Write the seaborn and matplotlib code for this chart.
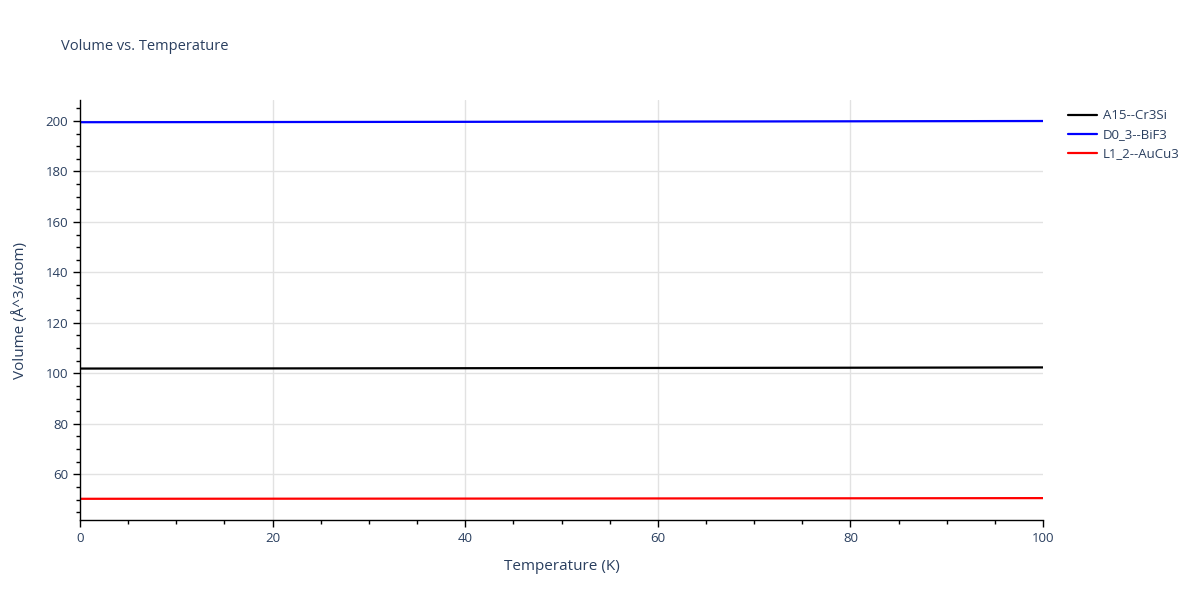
import numpy as np
import pandas as pd
import matplotlib
matplotlib.use("Agg")
import matplotlib.pyplot as plt
import seaborn as sns
from matplotlib.ticker import MultipleLocator

sns.set_style("white")
plt.rcParams["font.family"] = ["Open Sans", "DejaVu Sans"]

# --------------------------------------------------------------------------
# Data
# --------------------------------------------------------------------------
temperature = [0, 10, 20, 30, 40, 50, 60, 70, 80, 90, 100]
vol_a15 = [101.90, 101.93, 101.96, 102.00, 102.04, 102.08, 102.13, 102.18, 102.23, 102.29, 102.35]
vol_d03 = [199.50, 199.53, 199.57, 199.61, 199.65, 199.70, 199.75, 199.80, 199.86, 199.92, 199.98]
vol_l12 = [50.30, 50.32, 50.34, 50.36, 50.38, 50.41, 50.44, 50.47, 50.50, 50.53, 50.57]

series_names = ["A15--Cr3Si", "D0_3--BiF3", "L1_2--AuCu3"]
series_colors = ["black", "blue", "red"]

TEXT = "#2a3f5f"
GRID = "#e2e2e2"

df = pd.concat([
    pd.DataFrame({"T": temperature, "V": vals, "structure": name})
    for name, vals in zip(series_names, [vol_a15, vol_d03, vol_l12])
], ignore_index=True)

fig = plt.figure(figsize=(12, 6), dpi=100)
ax = fig.add_axes([80 / 1200, 1 - 520 / 600, (1043 - 80) / 1200, 420 / 600])

sns.lineplot(data=df, x="T", y="V", hue="structure", hue_order=series_names,
             palette=dict(zip(series_names, series_colors)), linewidth=1.6, ax=ax)

ax.set_xlim(0, 100)
ax.set_ylim(41.9, 208.3)
ax.xaxis.set_major_locator(MultipleLocator(20))
ax.xaxis.set_minor_locator(MultipleLocator(5))
ax.yaxis.set_major_locator(MultipleLocator(20))
ax.yaxis.set_minor_locator(MultipleLocator(5))

# grid drawn by hand so the right edge (x=100) stays without a line
for gx in [20, 40, 60, 80]:
    ax.axvline(gx, color=GRID, linewidth=1, zorder=0)
for gy in [60, 80, 100, 120, 140, 160, 180, 200]:
    ax.axhline(gy, color=GRID, linewidth=1, zorder=0)

for side in ["top", "right"]:
    ax.spines[side].set_visible(False)
for side in ["left", "bottom"]:
    ax.spines[side].set_color("black")
    ax.spines[side].set_linewidth(1)

ax.tick_params(axis="both", which="major", direction="out", length=5, width=1,
               color="black", labelcolor=TEXT, labelsize=9.5, left=True, bottom=True)
ax.tick_params(axis="both", which="minor", direction="out", length=3, width=1,
               color="black", left=True, bottom=True)

ax.set_xlabel("Temperature (K)", color=TEXT, fontsize=11, labelpad=10)
ax.set_ylabel("Volume (Å^3/atom)", color=TEXT, fontsize=11, labelpad=13)

fig.text(61 / 1200, 1 - 46 / 600, "Volume vs. Temperature", color=TEXT,
         fontsize=10.5, va="center", ha="left")

handles, labels = ax.get_legend_handles_labels()
ax.legend(handles, labels, loc="upper left", bbox_to_anchor=(1.02, 0.99),
          frameon=False, fontsize=9.5, labelcolor=TEXT, handlelength=2.2,
          handletextpad=0.45, labelspacing=0.45, borderaxespad=0.0)

plt.savefig("out.png", dpi=100)
